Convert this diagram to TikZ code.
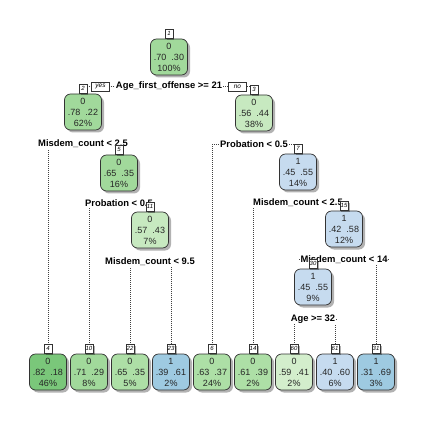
\documentclass[tikz,border=0pt]{standalone}
\usepackage{fontspec}
\setmainfont{Liberation Sans}
\usetikzlibrary{positioning, shadows, backgrounds}

\definecolor{grnA}{HTML}{7AC77A}
\definecolor{grnB}{HTML}{A1D99B}
\definecolor{grnC}{HTML}{ADDFA6}
\definecolor{grnD}{HTML}{C7E9C0}
\definecolor{grnE}{HTML}{D3EECC}
\definecolor{bluA}{HTML}{C6DBEF}
\definecolor{bluB}{HTML}{9ECAE1}

\begin{document}
\begin{tikzpicture}[
		x=1pt, y=-1pt,
		box/.style={
			draw=black!80,
			line width=0.7pt,
			rounded corners=6pt,
			align=center,
			minimum width=37pt,
			minimum height=36pt,
			inner sep=1pt,
			text=black!85,
			font=\fontsize{9}{11}\selectfont,
			drop shadow={shadow xshift=2.5pt, shadow yshift=-2.5pt, fill=black, opacity=0.3}
		},
		tab/.style={
			draw=black!80,
			fill=white,
			line width=0.5pt,
			inner sep=0.8pt,
			minimum width=7.5pt,
			minimum height=9pt,
			font=\fontsize{6}{6.5}\selectfont\itshape,
			drop shadow={shadow xshift=1.5pt, shadow yshift=-1.5pt, fill=black, opacity=0.3}
		},
		split/.style={
			fill=white,
			inner sep=1pt,
			font=\fontsize{9.4}{10}\selectfont\bfseries
		},
		answer/.style={
			draw=black!80,
			fill=white,
			line width=0.5pt,
			inner sep=1pt,
			minimum width=18pt,
			minimum height=9pt,
			font=\fontsize{6.5}{7}\selectfont\itshape
		},
		branch/.style={draw=black!75, line width=0.6pt, dash pattern=on 0.6pt off 1.4pt}
		]
		\useasboundingbox (0,0) rectangle (423,422);
		
		% Inner nodes
		\node[box, fill=grnB] at (169,57) (n1) {0\\.70\ \ .30\\100\%};
		\node[box, fill=grnB] at (83,112) (n2) {0\\.78\ \ .22\\62\%};
		\node[box, fill=grnD] at (254,113) (n3) {0\\.56\ \ .44\\38\%};
		\node[box, fill=grnB] at (119,173) (n5) {0\\.65\ \ .35\\16\%};
		\node[box, fill=bluA] at (298,172) (n7) {1\\.45\ \ .55\\14\%};
		\node[box, fill=grnD] at (150,230) (n11) {0\\.57\ \ .43\\7\%};
		\node[box, fill=bluA] at (344,229) (n15) {1\\.42\ \ .58\\12\%};
		\node[box, fill=bluA] at (313,287) (n30) {1\\.45\ \ .55\\9\%};
		
		% Split labels
		\node[split, below=5.5pt of n1] (s1) {Age\_first\_offense >= 21};
		\node[split, below=8pt of n2] (s2) {Misdem\_count < 2.5};
		\node[split, below=8pt of n3] (s3) {Probation < 0.5};
		\node[split, below=7.5pt of n5] (s5) {Probation < 0.5};
		\node[split, below=7pt of n7] (s7) {Misdem\_count < 2.5};
		\node[split, below=8pt of n11] (s11) {Misdem\_count < 9.5};
		\node[split, below=7pt of n15] (s15) {Misdem\_count < 14};
		\node[split, below=8pt of n30] (s30) {Age >= 32};
		\node[answer, left=5pt of s1] (yes) {yes};
		\node[answer, right=5pt of s1] (no) {no};
		
		% Leaves
		\node[box, fill=grnA] at (48,372) (n4) {0\\.82\ \ .18\\46\%};
		\node[box, fill=grnB] at (89,372) (n10) {0\\.71\ \ .29\\8\%};
		\node[box, fill=grnC] at (130,372) (n22) {0\\.65\ \ .35\\5\%};
		\node[box, fill=bluB] at (171,372) (n23) {1\\.39\ \ .61\\2\%};
		\node[box, fill=grnC] at (212,372) (n6) {0\\.63\ \ .37\\24\%};
		\node[box, fill=grnC] at (253,372) (n14) {0\\.61\ \ .39\\2\%};
		\node[box, fill=grnE] at (294,372) (n60) {0\\.59\ \ .41\\2\%};
		\node[box, fill=bluA] at (335,372) (n61) {1\\.40\ \ .60\\6\%};
		\node[box, fill=bluB] at (376,372) (n31) {1\\.31\ \ .69\\3\%};
		
		% Node numbers
		\node[tab, above=0pt of n1] (t1) {1};
		\node[tab, above=0pt of n2] (t2) {2};
		\node[tab, above=0pt of n3] (t3) {3};
		\node[tab, above=0pt of n5] (t5) {5};
		\node[tab, above=0pt of n7] (t7) {7};
		\node[tab, above=0pt of n11] (t11) {11};
		\node[tab, above=0pt of n15] (t15) {15};
		\node[tab, above=0pt of n30] (t30) {30};
		\node[tab, above=0pt of n4] (t4) {4};
		\node[tab, above=0pt of n10] (t10) {10};
		\node[tab, above=0pt of n22] (t22) {22};
		\node[tab, above=0pt of n23] (t23) {23};
		\node[tab, above=0pt of n6] (t6) {6};
		\node[tab, above=0pt of n14] (t14) {14};
		\node[tab, above=0pt of n60] (t60) {60};
		\node[tab, above=0pt of n61] (t61) {61};
		\node[tab, above=0pt of n31] (t31) {31};
		
		% Branches
		\begin{scope}[on background layer]
			\draw[branch] (t2.north) |- (s1) -| (t3.north);
			\draw[branch] (t4.north) |- (s2) -| (t5.north);
			\draw[branch] (t6.north) |- (s3) -| (t7.north);
			\draw[branch] (t10.north) |- (s5) -| (t11.north);
			\draw[branch] (t14.north) |- (s7) -| (t15.north);
			\draw[branch] (t22.north) |- (s11) -| (t23.north);
			\draw[branch] (t30.north) |- (s15) -| (t31.north);
			\draw[branch] (t60.north) |- (s30) -| (t61.north);
		\end{scope}
		
	\end{tikzpicture}
\end{document}
